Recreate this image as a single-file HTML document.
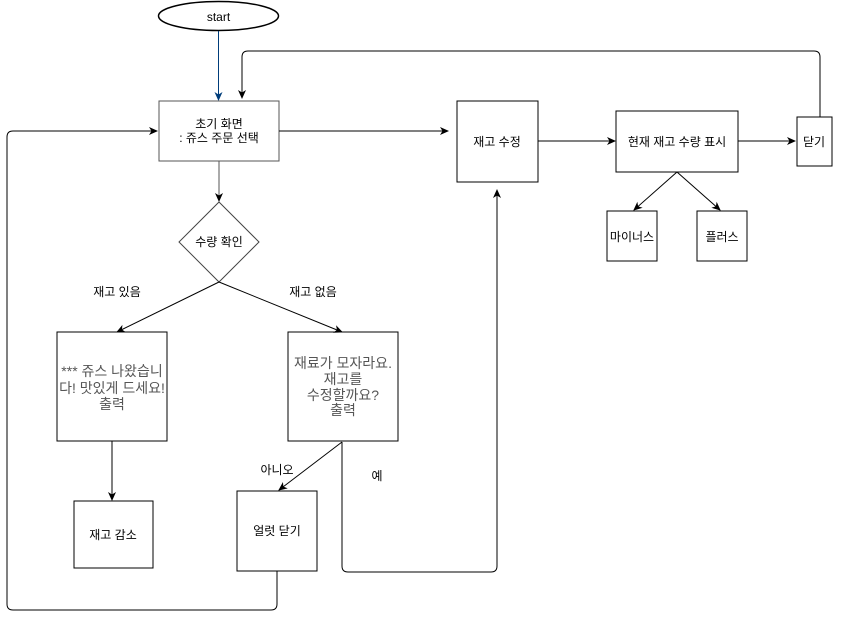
<!DOCTYPE html>
<html><head><meta charset="utf-8"><style>
body{margin:0;background:#fff}
text{font-family:"Liberation Sans","Noto Sans CJK KR",sans-serif;font-size:12px;fill:#000}
.g{fill:#555;font-size:14px}
</style></head><body>
<svg width="844" height="620" viewBox="0 0 844 620" xmlns="http://www.w3.org/2000/svg">
<defs>
<marker id="a" markerWidth="10" markerHeight="10" refX="8" refY="5" orient="auto" markerUnits="userSpaceOnUse"><path d="M0,1 L9,5 L0,9 L2.5,5 Z" fill="#000"/></marker>
<marker id="b" markerWidth="10" markerHeight="10" refX="8" refY="5" orient="auto" markerUnits="userSpaceOnUse"><path d="M0,1 L9,5 L0,9 L2.5,5 Z" fill="#003d7a"/></marker>
</defs>
<g fill="none" stroke="#000" stroke-width="1">
<ellipse cx="218.5" cy="16" rx="60" ry="14.5" stroke-width="1.5"/>
<line x1="218.5" y1="31" x2="218.5" y2="100" stroke="#003d7a" marker-end="url(#b)"/>
<rect x="159" y="101" width="120" height="60" stroke="#555"/>
<line x1="219" y1="161" x2="219" y2="201" stroke="#555" marker-end="url(#a)"/>
<polygon points="219,202 259,242 219,282 179,242" stroke="#444"/>
<line x1="219" y1="282" x2="117" y2="332" marker-end="url(#a)"/>
<line x1="219" y1="282" x2="342" y2="332" marker-end="url(#a)"/>
<rect x="57" y="332" width="110" height="109"/>
<rect x="288" y="332" width="110" height="109"/>
<line x1="112" y1="441" x2="112" y2="500" marker-end="url(#a)"/>
<rect x="74" y="501" width="79" height="67"/>
<rect x="237" y="491" width="80" height="80"/>
<line x1="342" y1="442" x2="279" y2="490" marker-end="url(#a)"/>
<path d="M342,442 V566 Q342,572 348,572 H491 Q497,572 497,566 V190" marker-end="url(#a)"/>
<rect x="457" y="101" width="81" height="81"/>
<line x1="279" y1="131" x2="448" y2="131" marker-end="url(#a)"/>
<line x1="538" y1="141" x2="615" y2="141" marker-end="url(#a)"/>
<rect x="616" y="111" width="122" height="61"/>
<line x1="738" y1="141" x2="795" y2="141" marker-end="url(#a)"/>
<rect x="797" y="117" width="35" height="49"/>
<path d="M820,117 V57 Q820,51 814,51 H248 Q242,51 242,57 V98" marker-end="url(#a)"/>
<line x1="677" y1="172" x2="634" y2="210" marker-end="url(#a)"/>
<line x1="677" y1="172" x2="720" y2="210" marker-end="url(#a)"/>
<rect x="607" y="211" width="50" height="50"/>
<rect x="697" y="211" width="50" height="50"/>
<path d="M277,571 V604 Q277,610 271,610 H13 Q7,610 7,604 V137 Q7,131 13,131 H157" marker-end="url(#a)"/>
</g>
<g text-anchor="middle">
<text x="218.5" y="21">start</text>
<text x="219" y="128">초기 화면</text>
<text x="219" y="142">: 쥬스 주문 선택</text>
<text x="219" y="246">수량 확인</text>
<text x="117" y="296">재고 있음</text>
<text x="313" y="296">재고 없음</text>
<text class="g" x="112" y="376">*** 쥬스 나왔습니</text>
<text class="g" x="112" y="393">다! 맛있게 드세요!</text>
<text class="g" x="112" y="409">출력</text>
<text class="g" x="343" y="368">재료가 모자라요.</text>
<text class="g" x="343" y="384">재고를</text>
<text class="g" x="343" y="400">수정할까요?</text>
<text class="g" x="343" y="415">출력</text>
<text x="277" y="474">아니오</text>
<text x="377" y="480">예</text>
<text x="113" y="539">재고 감소</text>
<text x="277" y="535">얼럿 닫기</text>
<text x="497" y="146">재고 수정</text>
<text x="677" y="146">현재 재고 수량 표시</text>
<text x="814" y="146">닫기</text>
<text x="632" y="241">마이너스</text>
<text x="722" y="241">플러스</text>
</g>
</svg>
</body></html>
